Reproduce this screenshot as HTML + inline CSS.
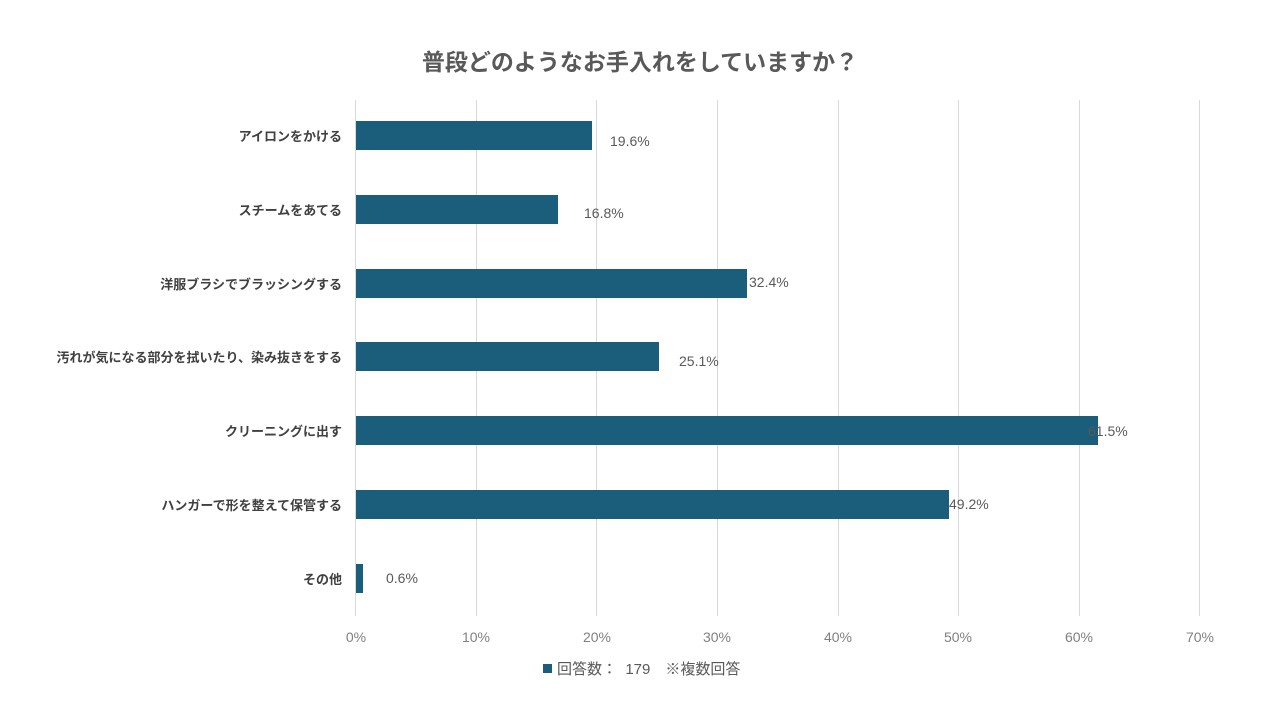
<!DOCTYPE html>
<html><head><meta charset="utf-8"><style>
body{margin:0;background:#fff}
svg{display:block;font-family:"Liberation Sans","Noto Sans CJK JP",sans-serif}
</style></head><body>
<svg width="1280" height="720" viewBox="0 0 1280 720">
<rect width="1280" height="720" fill="#fff"/>
<text x="640" y="70" text-anchor="middle" font-size="23" font-weight="bold" fill="#595959">普段どのようなお手入れをしていますか？</text>
<g stroke="#d9d9d9" stroke-width="1">
<line x1="355.5" y1="100" x2="355.5" y2="616"/>
<line x1="476.5" y1="100" x2="476.5" y2="616"/>
<line x1="596.5" y1="100" x2="596.5" y2="616"/>
<line x1="717.5" y1="100" x2="717.5" y2="616"/>
<line x1="838.5" y1="100" x2="838.5" y2="616"/>
<line x1="958.5" y1="100" x2="958.5" y2="616"/>
<line x1="1079.5" y1="100" x2="1079.5" y2="616"/>
<line x1="1199.5" y1="100" x2="1199.5" y2="616"/>
</g>
<g fill="#1a5e7b">
<rect x="356" y="121" width="236" height="29"/>
<rect x="356" y="195" width="202" height="29"/>
<rect x="356" y="269" width="391" height="29"/>
<rect x="356" y="342" width="303" height="29"/>
<rect x="356" y="416" width="742" height="29"/>
<rect x="356" y="490" width="593" height="29"/>
<rect x="356" y="564" width="7" height="29"/>
</g>
<g font-size="14" fill="#595959">
<text x="610" y="146">19.6%</text>
<text x="584" y="218">16.8%</text>
<text x="749" y="287">32.4%</text>
<text x="679" y="366">25.1%</text>
<text x="1088" y="436">61.5%</text>
<text x="949" y="509">49.2%</text>
<text x="386" y="583">0.6%</text>
</g>
<g font-size="13" font-weight="bold" fill="#404040" text-anchor="end">
<text x="342" y="141">アイロンをかける</text>
<text x="342" y="215">スチームをあてる</text>
<text x="342" y="289">洋服ブラシでブラッシングする</text>
<text x="342" y="362">汚れが気になる部分を拭いたり、染み抜きをする</text>
<text x="342" y="436">クリーニングに出す</text>
<text x="342" y="510">ハンガーで形を整えて保管する</text>
<text x="342" y="584">その他</text>
</g>
<g font-size="14" fill="#808080" text-anchor="middle">
<text x="356" y="642">0%</text>
<text x="476" y="642">10%</text>
<text x="597" y="642">20%</text>
<text x="717" y="642">30%</text>
<text x="838" y="642">40%</text>
<text x="958" y="642">50%</text>
<text x="1079" y="642">60%</text>
<text x="1200" y="642">70%</text>
</g>
<rect x="543" y="664" width="9" height="9" fill="#1a5e7b"/>
<text x="557" y="674" font-size="15" fill="#595959" xml:space="preserve">回答数：  179　※複数回答</text>
</svg>
</body></html>
